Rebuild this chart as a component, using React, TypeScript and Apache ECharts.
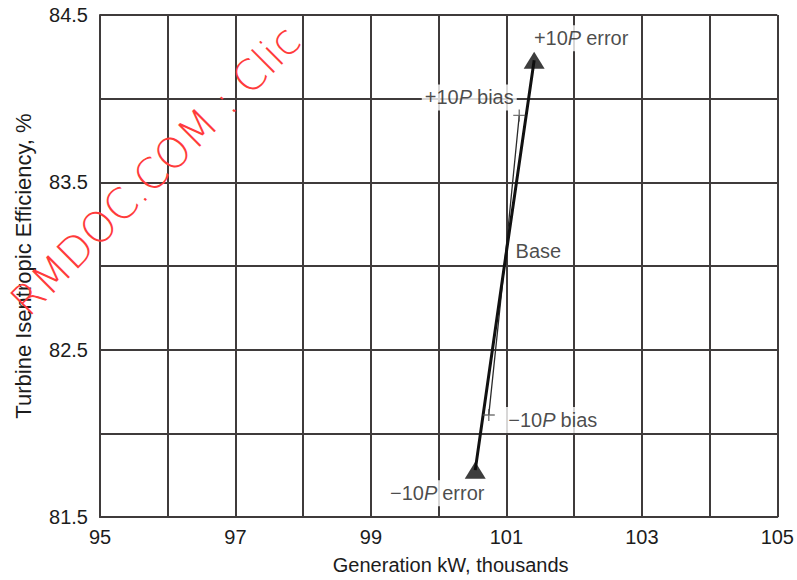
import React, { useEffect, useRef } from "react";
import * as echarts from "echarts";

// Points of the chart (generation in thousand kW, efficiency in %)
const pointNames = ["−10P error", "−10P bias", "Base", "+10P bias", "+10P error"];
const generation = [100.54, 100.74, 100.97, 101.19, 101.41];
const efficiency = [81.78, 82.11, 83.0, 83.9, 84.23];
const errorIdx = [0, 2, 4];
const biasIdx = [1, 2, 3];
const xTicks = [95, 97, 99, 101, 103, 105];
const yTicks = [81.5, 82.5, 83.5, 84.5];
const labelTexts = [
  "{t|−10}{i|P}{t|error}",
  "{t|−10}{i|P}{t|bias}",
  "{t|Base}",
  "{t|+10}{i|P}{t|bias}",
  "{t|+10}{i|P}{t|error}",
];
const labelOffsets = [
  [-38, 23],
  [64, 5],
  [34, -15],
  [-50, -18],
  [47, -22],
];
const watermarkText = "RMDOC.COM : Clic";

const FONT = "'Liberation Sans', Arial, Helvetica, sans-serif";
const GRID_COLOR = "#3f3b3b";
const TEXT_COLOR = "#1c1c1c";
const PLUS_PATH =
  "path://M5.3,0h1.4v5.3h5.3v1.4h-5.3v5.3h-1.4v-5.3h-5.3v-1.4h5.3z";

export default function App() {
  const ref = useRef<HTMLDivElement>(null);

  useEffect(() => {
    if (!ref.current) return;
    const chart = echarts.init(ref.current, undefined, { renderer: "svg" });

    const pt = (i: number) => [generation[i], efficiency[i]];

    chart.setOption({
      animation: false,
      backgroundColor: "#ffffff",
      grid: { left: 100, right: 18, top: 15, bottom: 63 },
      xAxis: {
        type: "value",
        min: 95,
        max: 105,
        interval: 1,
        name: "Generation kW, thousands",
        nameLocation: "middle",
        nameGap: 38,
        nameTextStyle: {
          fontSize: 20,
          color: TEXT_COLOR,
          fontFamily: FONT,
          padding: [0, 0, 0, 24],
        },
        axisLine: { show: true, lineStyle: { color: GRID_COLOR, width: 2 } },
        axisTick: { show: false },
        splitLine: { show: true, lineStyle: { color: GRID_COLOR, width: 2 } },
        axisLabel: {
          fontSize: 20,
          color: TEXT_COLOR,
          fontFamily: FONT,
          margin: 10,
          formatter: (v: number) => (xTicks.includes(v) ? String(v) : ""),
        },
      },
      yAxis: {
        type: "value",
        min: 81.5,
        max: 84.5,
        interval: 0.5,
        name: "Turbine Isentropic Efficiency, %",
        nameLocation: "middle",
        nameGap: 66,
        nameTextStyle: { fontSize: 22, color: TEXT_COLOR, fontFamily: FONT },
        axisLine: { show: true, lineStyle: { color: GRID_COLOR, width: 2 } },
        axisTick: { show: false },
        splitLine: { show: true, lineStyle: { color: GRID_COLOR, width: 2 } },
        axisLabel: {
          fontSize: 20,
          color: TEXT_COLOR,
          fontFamily: FONT,
          margin: 12,
          formatter: (v: number) => (yTicks.includes(v) ? v.toFixed(1) : ""),
        },
      },
      graphic: [
        {
          type: "text",
          x: 18,
          y: 308,
          rotation: Math.PI / 4,
          z: 100,
          silent: true,
          style: {
            text: watermarkText,
            fill: "#ff3b3b",
            fontSize: 42,
            fontFamily: "'DejaVu Sans', sans-serif",
            fontWeight: 200,
            align: "left",
            verticalAlign: "middle",
          },
        },
      ],
      series: [
        {
          type: "line",
          name: "bias",
          data: biasIdx.map(pt),
          symbol: "none",
          lineStyle: { color: "#2a2a2a", width: 1.3 },
          z: 3,
        },
        {
          type: "line",
          name: "error",
          data: errorIdx.map(pt),
          symbol: "none",
          lineStyle: { color: "#111", width: 3 },
          z: 4,
        },
        {
          type: "scatter",
          name: "error ends",
          data: [0, 4].map(pt),
          symbol: "triangle",
          symbolSize: [21, 17],
          itemStyle: { color: "#0d0d0d" },
          z: 5,
        },
        {
          type: "scatter",
          name: "bias ends",
          data: [1, 3].map(pt),
          symbol: PLUS_PATH,
          symbolSize: 12,
          itemStyle: { color: "#555" },
          z: 5,
        },
        {
          type: "scatter",
          name: "labels",
          symbolSize: 1,
          itemStyle: { color: "rgba(0,0,0,0)" },
          z: 6,
          data: pointNames.map((n, i) => ({
            name: n,
            value: pt(i),
            label: {
              show: true,
              position: "inside",
              align: "center",
              verticalAlign: "middle",
              offset: labelOffsets[i],
              formatter: labelTexts[i],
              backgroundColor: "#ffffff",
              padding: [3, 3],
              rich: {
                t: { fontSize: 20, color: TEXT_COLOR, fontFamily: FONT },
                i: {
                  fontSize: 20,
                  color: TEXT_COLOR,
                  fontFamily: FONT,
                  fontStyle: "italic",
                  padding: [0, 5, 0, 0],
                },
              },
            },
          })),
        },
      ],
    });

    return () => chart.dispose();
  }, []);

  return (
    <div
      ref={ref}
      style={{ position: "fixed", left: 0, top: 0, width: 797, height: 580 }}
    />
  );
}
